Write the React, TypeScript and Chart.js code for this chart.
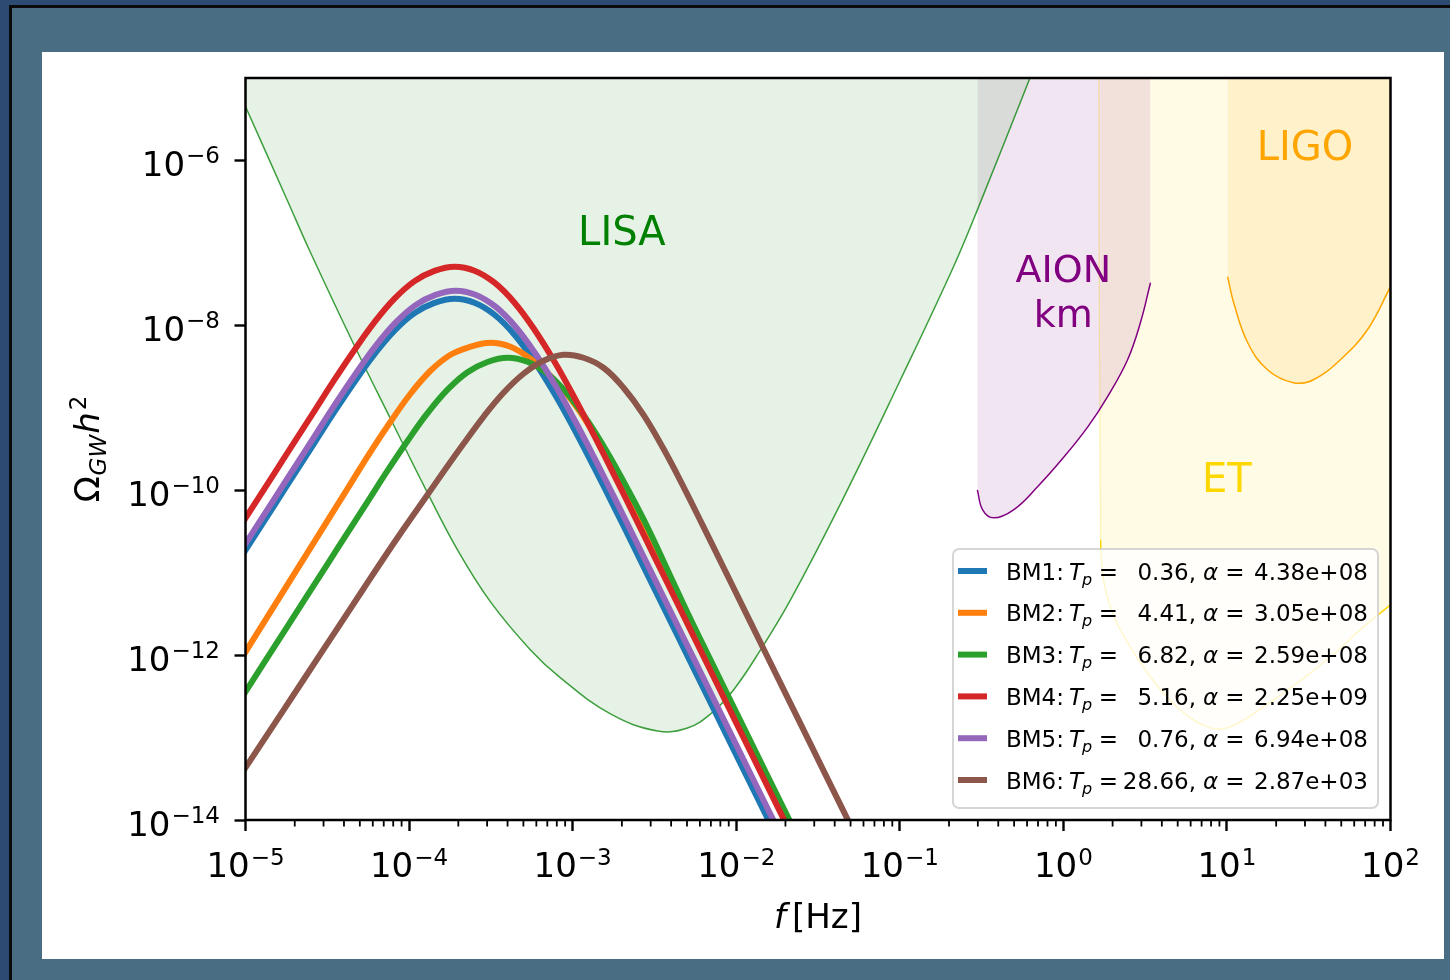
import { useEffect, useRef } from 'react';
import { Chart, registerables } from 'chart.js';

Chart.register(...registerables);

type Pair = [number, number];

// ---- benchmark spectra: [f (Hz), Omega_GW h^2] ----
const BM1: Pair[] = [
  [6.463e-6, 4.877e-12], [1.135e-5, 2.773e-11], [1.504e-5, 6.613e-11], [1.993e-5, 1.577e-10],
  [2.641e-5, 3.761e-10], [3.5e-5, 8.967e-10], [4.638e-5, 2.057e-9], [6.148e-5, 4.472e-9],
  [8.146e-5, 8.625e-9], [1.08e-4, 1.406e-8], [1.43e-4, 1.87e-8], [1.896e-4, 2.103e-8],
  [2.512e-4, 1.881e-8], [3.33e-4, 1.345e-8], [4.413e-4, 7.69e-9], [5.847e-4, 3.616e-9],
  [7.749e-4, 1.479e-9], [1.027e-3, 5.408e-10], [1.36e-3, 1.849e-10], [1.803e-3, 6.116e-11],
  [2.389e-3, 1.978e-11], [3.166e-3, 6.36e-12], [5.559e-3, 6.576e-13], [9.763e-3, 6.801e-14],
  [1.715e-2, 7.033e-15],
];
const BM2: Pair[] = [
  [6.111e-6, 2.287e-13], [1.073e-5, 1.367e-12], [1.884e-5, 8.178e-12], [2.497e-5, 2.0e-11],
  [3.309e-5, 4.891e-11], [4.386e-5, 1.196e-10], [5.812e-5, 2.924e-10], [7.7e-5, 6.763e-10],
  [1.02e-4, 1.479e-9], [1.352e-4, 2.812e-9], [1.792e-4, 4.398e-9], [2.374e-4, 5.499e-9],
  [3.147e-4, 6.15e-9], [4.17e-4, 5.499e-9], [5.525e-4, 3.933e-9], [7.323e-4, 2.445e-9],
  [9.704e-4, 1.286e-9], [1.286e-3, 5.718e-10], [1.704e-3, 2.15e-10], [2.258e-3, 7.437e-11],
  [2.993e-3, 2.432e-11], [3.966e-3, 7.521e-12], [5.255e-3, 2.325e-12], [9.227e-3, 2.405e-13],
  [1.62e-2, 2.487e-14], [2.846e-2, 2.571e-15],
];
const BM3: Pair[] = [
  [7.764e-6, 1.65e-13], [1.363e-5, 9.377e-13], [2.393e-5, 5.333e-12], [3.172e-5, 1.272e-11],
  [4.203e-5, 3.033e-11], [5.57e-5, 7.232e-11], [7.382e-5, 1.725e-10], [9.781e-5, 3.955e-10],
  [1.296e-4, 8.601e-10], [1.718e-4, 1.659e-9], [2.276e-4, 2.704e-9], [3.017e-4, 3.596e-9],
  [3.997e-4, 4.045e-9], [5.297e-4, 3.616e-9], [7.02e-4, 2.586e-9], [9.302e-4, 1.479e-9],
  [1.233e-3, 6.955e-10], [1.633e-3, 2.844e-10], [2.165e-3, 1.04e-10], [2.869e-3, 3.556e-11],
  [3.802e-3, 1.08e-11], [5.038e-3, 3.27e-12], [6.676e-3, 1.035e-12], [1.172e-2, 1.07e-13],
  [2.059e-2, 1.107e-14], [3.615e-2, 1.144e-15],
];
const BM4: Pair[] = [
  [6.463e-6, 1.193e-11], [1.135e-5, 6.782e-11], [1.504e-5, 1.617e-10], [1.993e-5, 3.857e-10],
  [2.641e-5, 9.196e-10], [3.5e-5, 2.193e-9], [4.638e-5, 5.029e-9], [6.148e-5, 1.094e-8],
  [8.146e-5, 2.109e-8], [1.08e-4, 3.439e-8], [1.43e-4, 4.573e-8], [1.896e-4, 5.143e-8],
  [2.512e-4, 4.599e-8], [3.33e-4, 3.289e-8], [4.413e-4, 1.881e-8], [5.847e-4, 8.843e-9],
  [7.749e-4, 3.616e-9], [1.027e-3, 1.323e-9], [1.36e-3, 4.522e-10], [1.803e-3, 1.495e-10],
  [2.389e-3, 4.836e-11], [3.166e-3, 1.555e-11], [5.559e-3, 1.608e-12], [9.763e-3, 1.663e-13],
  [1.715e-2, 1.72e-14], [3.011e-2, 1.778e-15],
];
const BM5: Pair[] = [
  [6.556e-6, 6.099e-12], [1.151e-5, 3.467e-11], [1.525e-5, 8.27e-11], [2.022e-5, 1.972e-10],
  [2.679e-5, 4.702e-10], [3.55e-5, 1.121e-9], [4.704e-5, 2.571e-9], [6.235e-5, 5.592e-9],
  [8.262e-5, 1.078e-8], [1.095e-4, 1.759e-8], [1.451e-4, 2.338e-8], [1.923e-4, 2.63e-8],
  [2.548e-4, 2.351e-8], [3.377e-4, 1.682e-8], [4.474e-4, 9.616e-9], [5.93e-4, 4.522e-9],
  [7.859e-4, 1.849e-9], [1.041e-3, 6.763e-10], [1.38e-3, 2.312e-10], [1.829e-3, 7.647e-11],
  [2.423e-3, 2.473e-11], [3.211e-3, 7.952e-12], [5.638e-3, 8.224e-13], [9.901e-3, 8.504e-14],
  [1.739e-2, 8.794e-15],
];
const BM6: Pair[] = [
  [5.537e-6, 7.293e-15], [9.723e-6, 3.966e-14], [1.708e-5, 2.156e-13], [2.999e-5, 1.173e-12],
  [5.265e-5, 6.377e-12], [6.978e-5, 1.487e-11], [9.246e-5, 3.382e-11], [1.225e-4, 7.521e-11],
  [1.624e-4, 1.673e-10], [2.152e-4, 3.658e-10], [2.851e-4, 7.778e-10], [3.779e-4, 1.521e-9],
  [5.007e-4, 2.586e-9], [6.636e-4, 3.719e-9], [8.793e-4, 4.398e-9], [1.165e-3, 4.045e-9],
  [1.544e-3, 3.058e-9], [2.047e-3, 1.749e-9], [2.712e-3, 8.223e-10], [3.593e-3, 3.18e-10],
  [4.762e-3, 1.1e-10], [6.31e-3, 3.596e-11], [8.363e-3, 1.156e-11], [1.108e-2, 3.719e-12],
  [1.468e-2, 1.196e-12], [2.579e-2, 1.237e-13], [4.529e-2, 1.279e-14], [7.952e-2, 1.323e-15],
];

const seriesNames = ['BM1', 'BM2', 'BM3', 'BM4', 'BM5', 'BM6'];
const seriesTp = ['0.36', '4.41', '6.82', '5.16', '0.76', '28.66'];
const seriesAlpha = ['4.38e+08', '3.05e+08', '2.59e+08', '2.25e+09', '6.94e+08', '2.87e+03'];

// ---- detector sensitivity curves: [f (Hz), Omega_GW h^2] ----
const LISA_CURVE: Pair[] = [
  [1e-5, 4.5e-6], [1.806e-5, 3.25e-7], [2.428e-5, 8.62e-8], [4.573e-5, 5.98e-9], [8.03e-5, 6.22e-10],
  [1.26e-4, 1.04e-10], [1.977e-4, 1.891e-11], [3.147e-4, 4.42e-12], [5.525e-4, 1.156e-12],
  [8.43e-4, 5.29e-13], [1.704e-3, 1.933e-13], [3.303e-3, 1.203e-13], [5.037e-3, 1.307e-13],
  [6.966e-3, 1.933e-13], [9.625e-3, 3.78e-13], [1.408e-2, 1.156e-12], [2.147e-2, 4.68e-12],
  [4.465e-2, 7.65e-11], [0.101, 2.187e-9], [0.213, 5.14e-8], [0.2986, 2.53e-7], [0.6298, 1.04e-5],
  [0.6852, 1.581e-5],
];
const AION_CURVE: Pair[] = [
  [0.298, 1.01e-10], [0.321, 5.78e-11], [0.374, 4.62e-11], [0.496, 5.78e-11], [0.695, 1.1e-10],
  [0.998, 2.47e-10], [1.41, 5.87e-10], [1.86, 1.36e-9], [2.47, 3.83e-9], [2.96, 1.08e-8],
  [3.41, 3.29e-8],
];
const ET_CURVE: Pair[] = [
  [1.64, 1e-4], [1.69, 2.5e-11], [1.76, 8.2e-12], [1.94, 3.85e-12], [2.23, 2.02e-12],
  [3.27, 6.08e-13], [5.2, 2.16e-13], [7.94, 1.31e-13], [10.5, 1.35e-13], [16.7, 2.35e-13],
  [27.0, 4.6e-13], [43.0, 9.5e-13], [68.4, 2.2e-12], [100, 4.06e-12],
];
const LIGO_CURVE: Pair[] = [
  [10.1, 3.89e-8], [11.0, 1.88e-8], [13.4, 6.15e-9], [17.7, 2.89e-9], [25.5, 2.01e-9],
  [33.8, 2.19e-9], [49.4, 3.83e-9], [72.3, 8.85e-9], [100, 2.94e-8],
];

const xTickExponents = [-5, -4, -3, -2, -1, 0, 1, 2];
const yTickExponents = [-14, -12, -10, -8, -6];
const minorMultipliers = [2, 3, 4, 5, 6, 7, 8, 9];

const regionLabels = [
  { lines: ['LISA'], f: 2e-3, omega: 9.5e-8, color: '#008000', size: 40 },
  { lines: ['AION', 'km'], f: 1.0, omega: 3.4e-8, color: '#800080', size: 38 },
  { lines: ['LIGO'], f: 30, omega: 1.02e-6, color: '#ffa500', size: 40 },
  { lines: ['ET'], f: 10, omega: 9.6e-11, color: '#ffd700', size: 40 },
];

// ---- styles ----
const seriesColors = ['#1f77b4', '#ff7f0e', '#2ca02c', '#d62728', '#9467bd', '#8c564b'];
const FONT = '"DejaVu Sans", "Liberation Sans", sans-serif';
const TICK_PX = 34;
const SUP_PX = 23;
const LEG_PX = 23;

const toXY = (arr: Pair[]) => arr.map(([x, y]) => ({ x, y }));

function drawPow(ctx: CanvasRenderingContext2D, exp: number, x: number, baseline: number, align: 'center' | 'right') {
  const base = '10';
  const sup = (exp < 0 ? '\u2212' : '') + Math.abs(exp);
  ctx.font = `${TICK_PX}px ${FONT}`;
  const w1 = ctx.measureText(base).width;
  ctx.font = `${SUP_PX}px ${FONT}`;
  const w2 = ctx.measureText(sup).width;
  const total = w1 + 1 + w2;
  const x0 = align === 'center' ? x - total / 2 : x - total;
  ctx.textAlign = 'left';
  ctx.textBaseline = 'alphabetic';
  ctx.font = `${TICK_PX}px ${FONT}`;
  ctx.fillText(base, x0, baseline);
  ctx.font = `${SUP_PX}px ${FONT}`;
  ctx.fillText(sup, x0 + w1 + 1, baseline - 12.5);
}

function roundRectPath(ctx: CanvasRenderingContext2D, x: number, y: number, w: number, h: number, r: number) {
  ctx.beginPath();
  ctx.moveTo(x + r, y);
  ctx.lineTo(x + w - r, y);
  ctx.arcTo(x + w, y, x + w, y + r, r);
  ctx.lineTo(x + w, y + h - r);
  ctx.arcTo(x + w, y + h, x + w - r, y + h, r);
  ctx.lineTo(x + r, y + h);
  ctx.arcTo(x, y + h, x, y + h - r, r);
  ctx.lineTo(x, y + r);
  ctx.arcTo(x, y, x + r, y, r);
  ctx.closePath();
}

const decorPlugin = {
  id: 'decor',
  afterDatasetsDraw(chart: any) {
    const { ctx, scales } = chart;
    const xs = scales.x;
    const ys = scales.y;
    ctx.save();
    ctx.textAlign = 'center';
    ctx.textBaseline = 'alphabetic';
    for (const lab of regionLabels) {
      const px = xs.getPixelForValue(lab.f);
      const py = ys.getPixelForValue(lab.omega);
      ctx.font = `${lab.size}px ${FONT}`;
      ctx.fillStyle = lab.color;
      lab.lines.forEach((t, i) => ctx.fillText(t, px, py + i * 45.3));
    }
    ctx.restore();
  },
  afterDraw(chart: any) {
    const { ctx, chartArea: a, scales } = chart;
    const xs = scales.x;
    const ys = scales.y;
    ctx.save();

    // spines
    ctx.strokeStyle = '#000';
    ctx.lineWidth = 2.5;
    ctx.strokeRect(a.left, a.top, a.right - a.left, a.bottom - a.top);

    // minor x ticks
    ctx.lineWidth = 1.8;
    for (let e = -5; e < 2; e++) {
      for (const k of minorMultipliers) {
        const px = xs.getPixelForValue(k * Math.pow(10, e));
        ctx.beginPath();
        ctx.moveTo(px, a.bottom);
        ctx.lineTo(px, a.bottom + 6.5);
        ctx.stroke();
      }
    }

    // tick labels
    ctx.fillStyle = '#000';
    for (const e of xTickExponents) {
      drawPow(ctx, e, xs.getPixelForValue(Math.pow(10, e)), a.bottom + 57, 'center');
    }
    for (const e of yTickExponents) {
      drawPow(ctx, e, a.left - 25.5, ys.getPixelForValue(Math.pow(10, e)) + 15.5, 'right');
    }

    // x title: f [Hz]
    {
      ctx.font = `italic ${TICK_PX}px ${FONT}`;
      const wf = ctx.measureText('f').width;
      ctx.font = `${TICK_PX}px ${FONT}`;
      const wr = ctx.measureText('[Hz]').width;
      const gap = 6;
      const total = wf + gap + wr;
      const cx = (a.left + a.right) / 2;
      const x0 = cx - total / 2;
      const bl = a.bottom + 108;
      ctx.textAlign = 'left';
      ctx.font = `italic ${TICK_PX}px ${FONT}`;
      ctx.fillText('f', x0, bl);
      ctx.font = `${TICK_PX}px ${FONT}`;
      ctx.fillText('[Hz]', x0 + wf + gap, bl);
    }

    // y title: Omega_GW h^2
    {
      ctx.save();
      ctx.translate(a.left - 146.5, (a.top + a.bottom) / 2);
      ctx.rotate(-Math.PI / 2);
      const parts = [
        { t: '\u03A9', font: `${TICK_PX}px ${FONT}`, dy: 0, gap: 0 },
        { t: 'GW', font: `italic ${SUP_PX}px ${FONT}`, dy: 7, gap: 1 },
        { t: 'h', font: `italic ${TICK_PX}px ${FONT}`, dy: 0, gap: 1 },
        { t: '2', font: `${SUP_PX}px ${FONT}`, dy: -13, gap: 2 },
      ];
      let total = 0;
      const widths = parts.map((p) => {
        ctx.font = p.font;
        const w = ctx.measureText(p.t).width;
        total += w + p.gap;
        return w;
      });
      let x = -total / 2;
      ctx.textAlign = 'left';
      parts.forEach((p, i) => {
        x += p.gap;
        ctx.font = p.font;
        ctx.fillText(p.t, x, p.dy);
        x += widths[i];
      });
      ctx.restore();
    }

    // legend
    {
      const lw = 425;
      const lh = 259;
      const lx = a.right - 12.5 - lw;
      const ly = a.bottom - 12 - lh;
      roundRectPath(ctx, lx, ly, lw, lh, 6);
      ctx.fillStyle = 'rgba(255,255,255,0.8)';
      ctx.fill();
      ctx.strokeStyle = 'rgba(204,204,204,0.8)';
      ctx.lineWidth = 2;
      ctx.stroke();

      seriesNames.forEach((name, i) => {
        const cy = ly + 22 + i * 41.8;
        ctx.strokeStyle = seriesColors[i];
        ctx.lineWidth = 6;
        ctx.lineCap = 'butt';
        ctx.beginPath();
        ctx.moveTo(lx + 5, cy);
        ctx.lineTo(lx + 34, cy);
        ctx.stroke();

        const bl = cy + 8.5;
        ctx.fillStyle = '#000';
        ctx.textAlign = 'left';
        ctx.font = `${LEG_PX}px ${FONT}`;
        ctx.fillText(name + ':', lx + 53, bl);
        ctx.font = `italic ${LEG_PX}px ${FONT}`;
        ctx.fillText('T', lx + 116, bl);
        const tw = ctx.measureText('T').width;
        ctx.font = `italic ${Math.round(LEG_PX * 0.7)}px ${FONT}`;
        ctx.fillText('p', lx + 116 + tw - 1, bl + 5);
        ctx.font = `${LEG_PX}px ${FONT}`;
        ctx.textAlign = 'center';
        ctx.fillText('=', lx + 155.5, bl);
        ctx.textAlign = 'right';
        ctx.fillText(seriesTp[i] + ',', lx + 243, bl);
        ctx.textAlign = 'left';
        ctx.font = `italic ${LEG_PX}px ${FONT}`;
        ctx.fillText('\u03B1', lx + 250, bl);
        ctx.font = `${LEG_PX}px ${FONT}`;
        ctx.textAlign = 'center';
        ctx.fillText('=', lx + 282, bl);
        ctx.textAlign = 'left';
        ctx.fillText(seriesAlpha[i], lx + 301, bl);
      });
    }

    ctx.restore();
  },
};

export default function App() {
  const canvasRef = useRef<HTMLCanvasElement | null>(null);

  useEffect(() => {
    const canvas = canvasRef.current;
    if (!canvas) return;

    const curveSets = [BM1, BM2, BM3, BM4, BM5, BM6].map((s, i) => ({
      label: seriesNames[i],
      data: toXY(s),
      borderColor: seriesColors[i],
      backgroundColor: seriesColors[i],
      borderWidth: 6,
      pointRadius: 0,
      fill: false,
      tension: 0.4,
      capBezierPoints: false,
      borderCapStyle: 'butt' as const,
      borderJoinStyle: 'round' as const,
      order: 5 - i,
      clip: 0,
    }));

    const regionBase = {
      pointRadius: 0,
      borderWidth: 1.5,
      fill: 'end' as const,
      tension: 0.4,
      capBezierPoints: false,
      clip: 0,
    };

    const regionSets = [
      { ...regionBase, label: 'LISA', data: toXY(LISA_CURVE), borderColor: 'rgba(0,128,0,0.75)', backgroundColor: 'rgba(0,128,0,0.1)', order: 10 },
      { ...regionBase, label: 'AION km', data: toXY(AION_CURVE), borderColor: '#800080', backgroundColor: 'rgba(128,0,128,0.1)', order: 11 },
      { ...regionBase, label: 'LIGO', data: toXY(LIGO_CURVE), borderColor: '#ffa500', backgroundColor: 'rgba(255,165,0,0.12)', order: 12 },
      {
        ...regionBase,
        label: 'ET',
        data: toXY(ET_CURVE),
        borderColor: '#ffd700',
        backgroundColor: 'rgba(255,215,0,0.1)',
        order: 13,
        segment: {
          borderColor: (c: any) => (c.p0DataIndex === 0 ? 'rgba(255,215,0,0.25)' : '#ffd700'),
        },
      },
    ];

    const chart = new Chart(canvas, {
      type: 'line',
      data: { datasets: [...curveSets, ...regionSets] as any },
      options: {
        animation: false,
        responsive: false,
        devicePixelRatio: 1,
        events: [],
        layout: { padding: { top: 26, right: 53.5, left: 0, bottom: 0 } },
        plugins: {
          legend: { display: false },
          tooltip: { enabled: false },
          title: { display: false },
        },
        scales: {
          x: {
            type: 'logarithmic',
            position: 'bottom',
            min: 1e-5,
            max: 1e2,
            afterBuildTicks: (s: any) => {
              s.ticks = xTickExponents.map((e) => ({ value: Math.pow(10, e) }));
            },
            afterFit: (s: any) => {
              s.height = 139;
            },
            ticks: { display: false },
            grid: {
              display: true,
              drawOnChartArea: false,
              drawTicks: true,
              tickLength: 11,
              tickWidth: 2.4,
              tickColor: '#000',
            },
            border: { display: false },
          },
          y: {
            type: 'logarithmic',
            position: 'left',
            min: 1e-14,
            max: 1e-5,
            afterBuildTicks: (s: any) => {
              s.ticks = yTickExponents.map((e) => ({ value: Math.pow(10, e) }));
            },
            afterFit: (s: any) => {
              s.width = 203.5;
            },
            ticks: { display: false },
            grid: {
              display: true,
              drawOnChartArea: false,
              drawTicks: true,
              tickLength: 11,
              tickWidth: 2.4,
              tickColor: '#000',
            },
            border: { display: false },
          },
        },
      } as any,
      plugins: [decorPlugin],
    });

    return () => chart.destroy();
  }, []);

  return (
    <div style={{ position: 'fixed', left: 0, top: 0, right: 0, bottom: 0, background: '#2d4a72', overflow: 'hidden' }}>
      <div
        style={{
          position: 'absolute',
          left: 9,
          top: 5,
          width: 1500,
          height: 1000,
          border: '3px solid #0b0b0b',
          boxSizing: 'border-box',
          background: '#496e83',
        }}
      />
      <div style={{ position: 'absolute', left: 42, top: 52, width: 1402, height: 907, background: '#ffffff' }}>
        <canvas ref={canvasRef} width={1402} height={907} style={{ display: 'block' }} />
      </div>
    </div>
  );
}
